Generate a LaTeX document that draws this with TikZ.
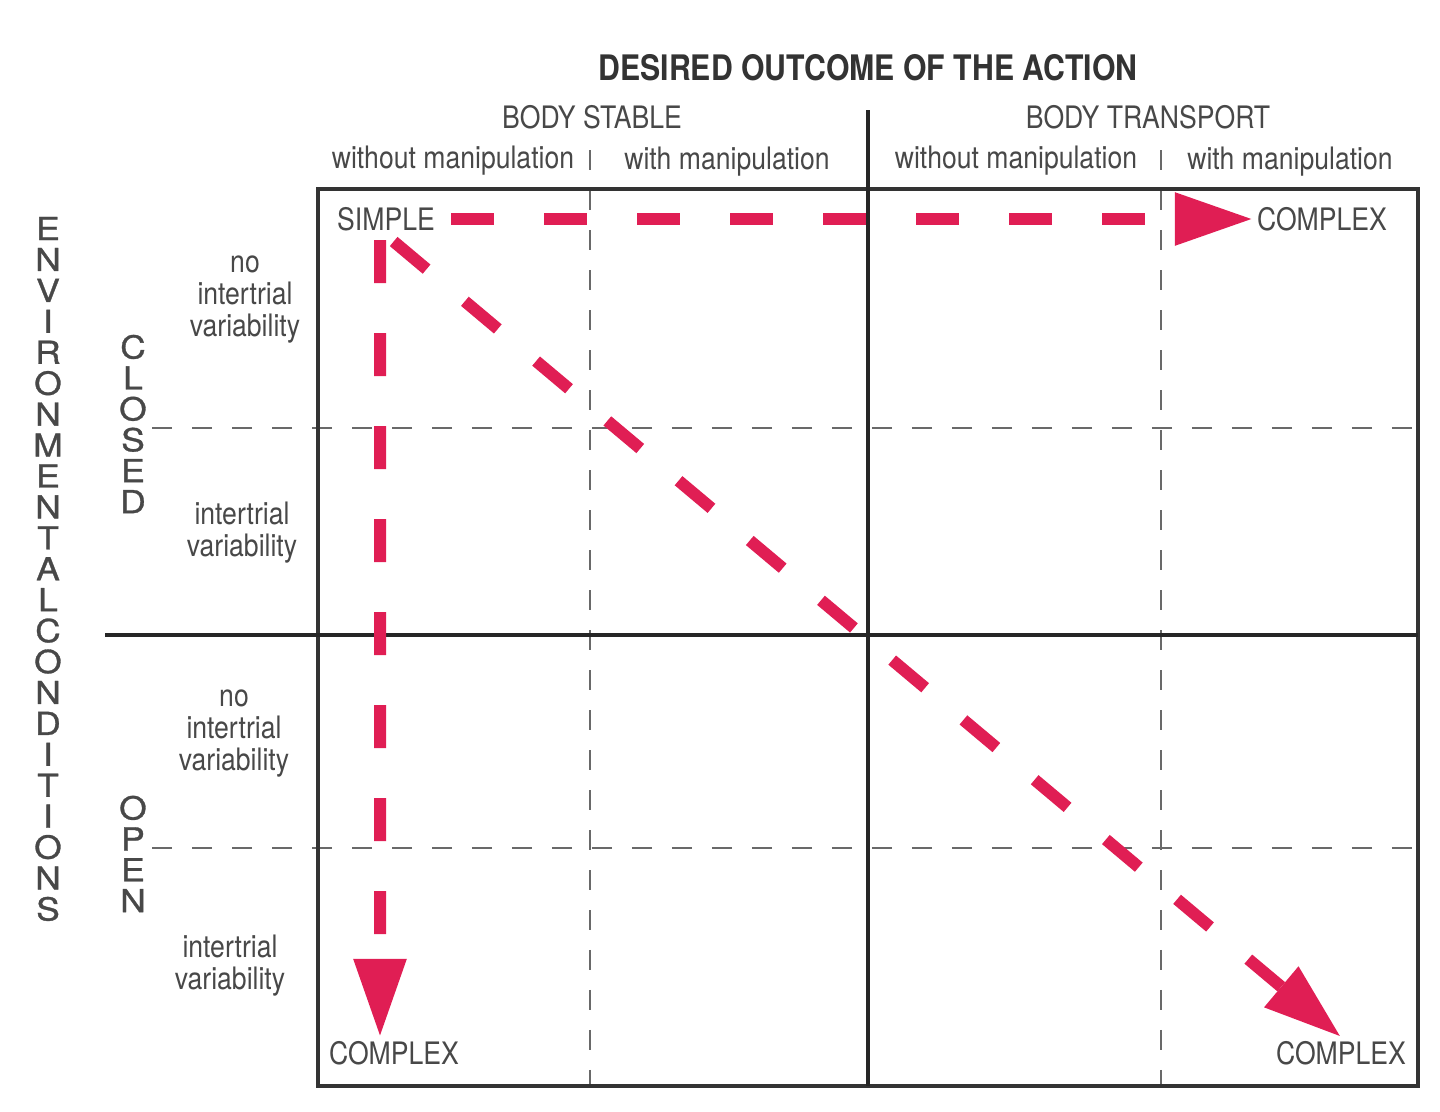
\documentclass[tikz,border=0pt]{standalone}
\usepackage{fontspec}
\setmainfont{TeX Gyre Heros}[FakeStretch=0.86]
\newfontfamily\widefont{TeX Gyre Heros}[FakeStretch=1.12,FakeBold=1]
\usetikzlibrary{arrows.meta}
\definecolor{arrowred}{RGB}{224,30,84}
\definecolor{labelgray}{RGB}{72,72,72}
\definecolor{linegray}{RGB}{105,105,105}

\begin{document}
\begin{tikzpicture}[
	label/.style={text=labelgray, font=\fontsize{8.8}{9.1}\selectfont, align=center, inner sep=1pt},
	headline/.style={text=black!80, font=\bfseries\fontsize{10}{12}\selectfont, inner sep=1pt},
	letters/.style={text=labelgray, font=\widefont\fontsize{9}{8.8}\selectfont, align=center, inner sep=0pt},
	grid/.style={draw=linegray, line width=0.7pt, dash pattern=on 0.2cm off 0.2cm},
	frame/.style={draw=black!80, line width=0.9pt},
	axis/.style={draw=black!85, line width=1.2pt},
	redarrow/.style={draw=arrowred, line width=0.12cm, dash pattern=on 0.43cm off 0.5cm, -{Triangle[length=0.78cm,width=0.5cm]}}
	]
		\useasboundingbox (0,0) rectangle (14.4,-11.11);
		% grid
		\draw[grid] (5.90,-1.50) -- (5.90,-10.86);
		\draw[grid] (11.61,-1.50) -- (11.61,-10.86);
		\draw[grid] (1.52,-4.28) -- (14.18,-4.28);
		\draw[grid] (1.52,-8.48) -- (14.18,-8.48);
		\draw[frame] (3.18,-1.89) rectangle (14.18,-10.86);
		\draw[axis] (8.68,-1.10) -- (8.68,-10.86);
		\draw[axis] (1.05,-6.35) -- (14.18,-6.35);
		% headings
		\node[headline] (title) at (8.68,-0.68) {DESIRED OUTCOME OF THE ACTION};
		\node[label] (stable) at (5.92,-1.17) {BODY STABLE};
		\node[label] (transport) at (11.48,-1.17) {BODY TRANSPORT};
		\node[label] (stwithout) at (4.53,-1.61) {without manipulation};
		\node[label] (stwith) at (7.27,-1.62) {with manipulation};
		\node[label] (trwithout) at (10.16,-1.61) {without manipulation};
		\node[label] (trwith) at (12.90,-1.62) {with manipulation};
		% left side
		\node[letters] (env) at (0.48,-5.69) {E\\N\\V\\I\\R\\O\\N\\M\\E\\N\\T\\A\\L\\C\\O\\N\\D\\I\\T\\I\\O\\N\\S};
		\node[letters] (closed) at (1.33,-4.24) {C\\L\\O\\S\\E\\D};
		\node[letters] (open) at (1.33,-8.54) {O\\P\\E\\N};
		\node[label] (cnovar) at (2.45,-3.00) {no\\intertrial\\variability};
		\node[label] (cvar) at (2.42,-5.33) {intertrial\\variability};
		\node[label] (onovar) at (2.34,-7.34) {no\\intertrial\\variability};
		\node[label] (ovar) at (2.30,-9.66) {intertrial\\variability};
		% simple / complex
		\node[label] (simple) at (3.86,-2.19) {SIMPLE};
		\node[label] (cplxtr) at (13.22,-2.19) {COMPLEX};
		\node[label] (cplxbl) at (3.94,-10.53) {COMPLEX};
		\node[label] (cplxbr) at (13.41,-10.53) {COMPLEX};
		\draw[redarrow, shorten <=0.12cm] (simple.east) -- (cplxtr.west);
		\draw[redarrow] ([xshift=-0.06cm,yshift=-0.05cm]simple.south) -- ([xshift=-0.14cm]cplxbl.north);
		\draw[redarrow, shorten <=0.1cm] (simple.south) -- (cplxbr.north);
\end{tikzpicture}
\end{document}
